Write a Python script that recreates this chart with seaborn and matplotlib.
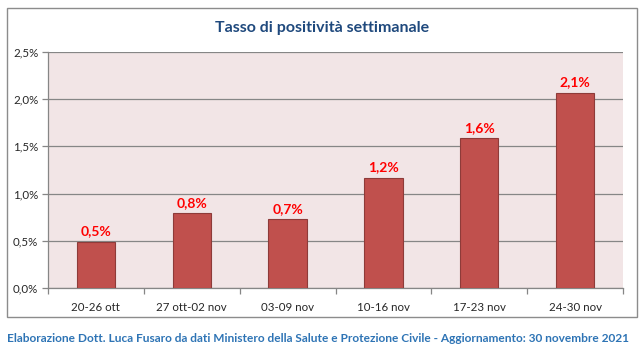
import matplotlib
matplotlib.use("Agg")
import matplotlib.pyplot as plt
import seaborn as sns
import pandas as pd
from matplotlib.patches import Rectangle
from matplotlib.ticker import FuncFormatter, FixedLocator

categories = ["20-26 ott", "27 ott-02 nov", "03-09 nov", "10-16 nov", "17-23 nov", "24-30 nov"]
values = [0.49, 0.79, 0.73, 1.17, 1.59, 2.07]
y_ticks = [0.0, 0.5, 1.0, 1.5, 2.0, 2.5]
title = "Tasso di positività settimanale"
footer = "Elaborazione Dott. Luca Fusaro da dati Ministero della Salute e Protezione Civile - Aggiornamento: 30 novembre 2021"

sns.set_theme(style="white")
plt.rcParams['font.family'] = ['Lato', 'DejaVu Sans']

df = pd.DataFrame({"cat": categories, "val": values})

fig = plt.figure(figsize=(6.44, 3.5), dpi=100)
W, H = 644, 350
# outer chart border
fig.patches.append(Rectangle((7 / W, 1 - 317 / H), (637 - 7) / W, (317 - 8) / H,
                             transform=fig.transFigure, fill=False,
                             edgecolor="#8c8c8c", linewidth=1.0))

ax = fig.add_axes([48 / W, 1 - 288 / H, (623 - 48) / W, (288 - 52) / H])
ax.set_facecolor("#F2E5E6")

sns.barplot(data=df, x="cat", y="val", color="#C0504D", width=0.4,
            edgecolor="#8E3B39", linewidth=0.8, saturation=1, ax=ax, zorder=3)

ax.set_ylim(0, 2.5)
ax.set_xlim(-0.5, len(categories) - 0.5)
ax.yaxis.set_major_locator(FixedLocator(y_ticks))
ax.yaxis.set_major_formatter(FuncFormatter(lambda v, p: f"{v:.1f}%".replace(".", ",")))
ax.grid(axis="y", color="#868686", linewidth=0.9, zorder=0)
ax.set_axisbelow(True)

for s in ["top", "right"]:
    ax.spines[s].set_visible(False)
for s in ["left", "bottom"]:
    ax.spines[s].set_color("#868686")
    ax.spines[s].set_linewidth(0.9)

ax.set_xlabel("")
ax.set_ylabel("")
ax.tick_params(axis="y", which="major", left=True, length=4, width=0.9, color="#868686",
               labelsize=8.3, labelcolor="#262626", pad=3)
ax.tick_params(axis="x", which="major", bottom=False, labelsize=8.3, labelcolor="#262626", pad=4)
ax.set_xticks([i + 0.5 for i in range(-1, len(categories))], minor=True)
ax.tick_params(axis="x", which="minor", bottom=True, length=4, width=0.9, color="#868686")

labels = [f"{v:.1f}%".replace(".", ",") for v in values]
ax.bar_label(ax.containers[0], labels=labels, padding=3, color="#FF0000",
             fontsize=10, fontweight="bold")

fig.text(322 / W, 1 - 28 / H, title, ha="center", va="center", fontsize=11.5,
         fontweight="bold", color="#1F497D")
fig.text(7 / W, 1 - 338 / H, footer, ha="left", va="center", fontsize=8.6,
         fontweight="bold", color="#2E74B5")

fig.savefig("out.png", dpi=100)
